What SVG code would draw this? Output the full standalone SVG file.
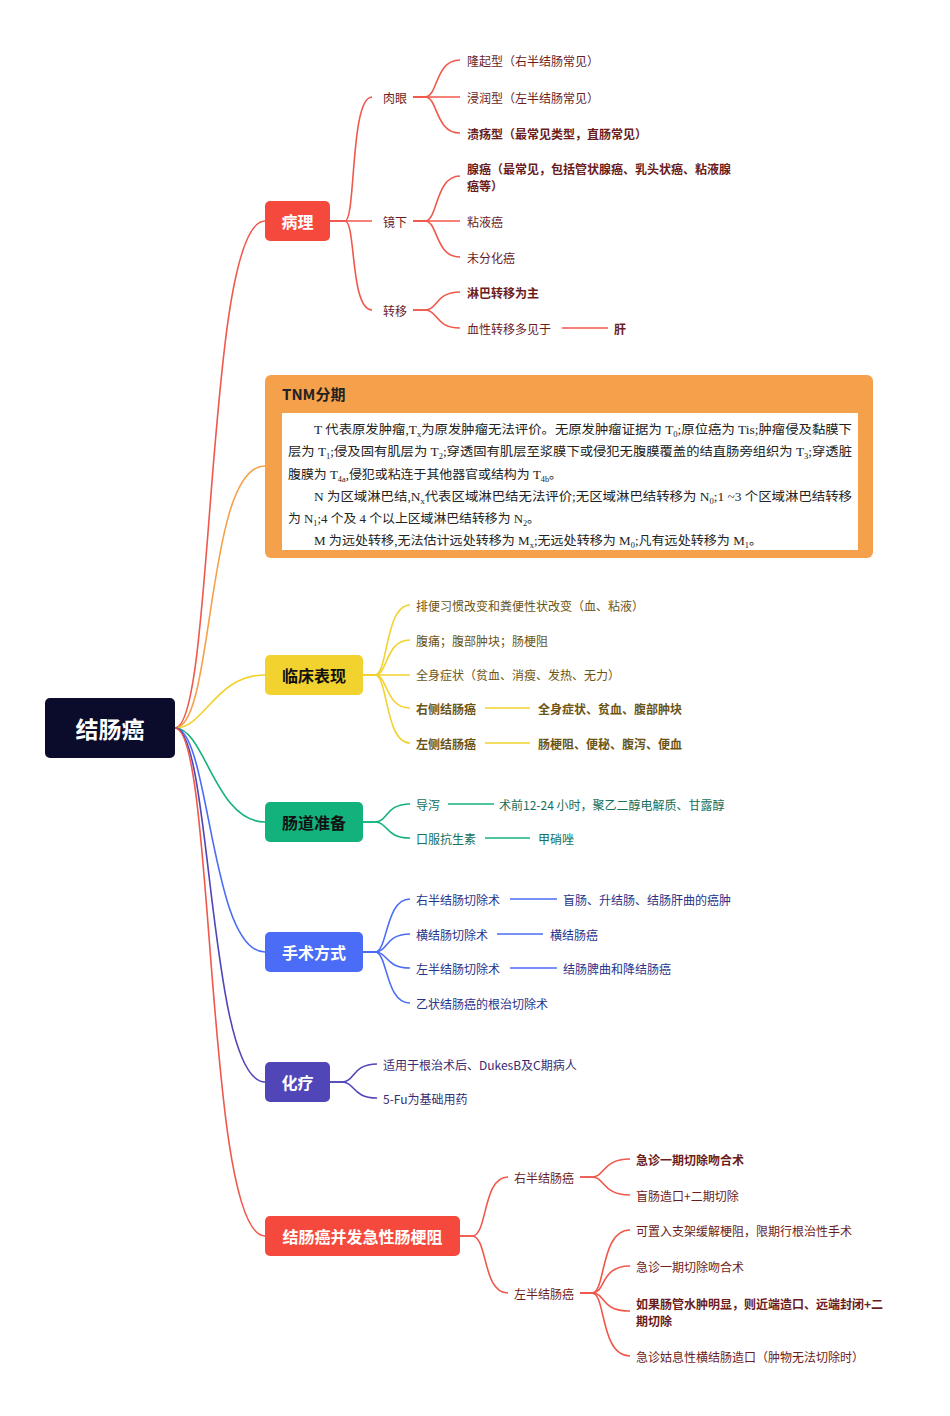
<svg xmlns="http://www.w3.org/2000/svg" width="950" height="1416" viewBox="0 0 950 1416">
<style>
text{font-family:"Noto Sans CJK SC","Noto Sans",sans-serif}
.n{font-size:16px;font-weight:bold;text-anchor:middle;dominant-baseline:central}
.t{font-size:12px;dominant-baseline:central}
.b{font-weight:bold}
.r{fill:#6b1c1c}.y{fill:#6b5516}.g{fill:#16705a}.bl{fill:#27338a}.p{fill:#352c75}
.tnm{font-family:"Liberation Serif","Noto Sans CJK SC",serif;font-size:12.5px;fill:#222}
.c{fill:none;stroke-width:1.6}
.cr{stroke:#f0584c}.co{stroke:#f5a04a}.cy{stroke:#f2d22e}.cg{stroke:#13b27c}.cb{stroke:#4a6cf7}.cp{stroke:#5046b8}
</style>
<rect width="950" height="1416" fill="#fff"/>
<g id="connectors">
<path class="c cr" d="M175,728 C215,728 205,221 265,221"/>
<path class="c co" d="M175,728 C215,728 205,466 265,466"/>
<path class="c cy" d="M175,728 C205,728 215,675 265,675"/>
<path class="c cg" d="M175,728 C205,728 215,822 265,822"/>
<path class="c cb" d="M175,728 C210,728 210,952 265,952"/>
<path class="c cp" d="M175,728 C212,728 208,1082 265,1082"/>
<path class="c cr" d="M175,728 C215,728 205,1236 265,1236"/>
<!-- 病理 -->
<path class="c cr" d="M330,221 L345,221 C356,221 350,97 372,97"/>
<path class="c cr" d="M330,221 L372,221"/>
<path class="c cr" d="M330,221 L345,221 C356,221 350,310 372,310"/>
<path class="c cr" d="M413,97 L425,97 C438,97 435,60 460,60"/>
<path class="c cr" d="M413,97 L460,97"/>
<path class="c cr" d="M413,97 L425,97 C438,97 435,133 460,133"/>
<path class="c cr" d="M413,221 L425,221 C438,221 435,176 460,176"/>
<path class="c cr" d="M413,221 L460,221"/>
<path class="c cr" d="M413,221 L425,221 C438,221 435,257 460,257"/>
<path class="c cr" d="M413,310 L425,310 C438,310 435,292 460,292"/>
<path class="c cr" d="M413,310 L425,310 C438,310 435,328 460,328"/>
<path class="c cr" d="M562,328 L608,328"/>
<!-- 临床 -->
<path class="c cy" d="M363,675 L375,675 C388,675 385,605 410,605"/>
<path class="c cy" d="M363,675 L375,675 C388,675 385,640 410,640"/>
<path class="c cy" d="M363,675 L410,675"/>
<path class="c cy" d="M363,675 L375,675 C388,675 385,708 410,708"/>
<path class="c cy" d="M363,675 L375,675 C388,675 385,743 410,743"/>
<path class="c cy" d="M485,708 L530,708"/>
<path class="c cy" d="M485,743 L530,743"/>
<!-- 肠道 -->
<path class="c cg" d="M363,822 L375,822 C388,822 385,804 410,804"/>
<path class="c cg" d="M363,822 L375,822 C388,822 385,838 410,838"/>
<path class="c cg" d="M448,804 L494,804"/>
<path class="c cg" d="M485,838 L530,838"/>
<!-- 手术 -->
<path class="c cb" d="M363,952 L375,952 C388,952 385,899 410,899"/>
<path class="c cb" d="M363,952 L375,952 C388,952 385,934 410,934"/>
<path class="c cb" d="M363,952 L375,952 C388,952 385,968 410,968"/>
<path class="c cb" d="M363,952 L375,952 C388,952 385,1003 410,1003"/>
<path class="c cb" d="M510,899 L557,899"/>
<path class="c cb" d="M497,934 L543,934"/>
<path class="c cb" d="M510,968 L557,968"/>
<!-- 化疗 -->
<path class="c cp" d="M330,1082 L342,1082 C355,1082 352,1064 377,1064"/>
<path class="c cp" d="M330,1082 L342,1082 C355,1082 352,1098 377,1098"/>
<!-- 梗阻 -->
<path class="c cr" d="M460,1236 L472,1236 C488,1236 482,1177 508,1177"/>
<path class="c cr" d="M460,1236 L472,1236 C488,1236 482,1293 508,1293"/>
<path class="c cr" d="M580,1177 L592,1177 C605,1177 602,1159 630,1159"/>
<path class="c cr" d="M580,1177 L592,1177 C605,1177 602,1195 630,1195"/>
<path class="c cr" d="M580,1293 L592,1293 C606,1293 600,1230 630,1230"/>
<path class="c cr" d="M580,1293 L592,1293 C606,1293 600,1266 630,1266"/>
<path class="c cr" d="M580,1293 L592,1293 C606,1293 600,1311 630,1311"/>
<path class="c cr" d="M580,1293 L592,1293 C606,1293 600,1356 630,1356"/>
</g>
<g id="root"><rect x="45" y="698" width="130" height="60" rx="5" fill="#0b0b2b"/><text class="n" x="110" y="728" fill="#fff" style="font-size:23px">结肠癌</text></g>
<g id="bingli"><rect x="265" y="201" width="65" height="40" rx="5" fill="#f5493d"/><text class="n" x="297.5" y="221" fill="#fff">病理</text>
<text class="t r" x="383" y="97">肉眼</text><text class="t r" x="383" y="221">镜下</text><text class="t r" x="383" y="310">转移</text>
<text class="t r" x="467" y="60">隆起型（右半结肠常见）</text>
<text class="t r" x="467" y="97">浸润型（左半结肠常见）</text>
<text class="t r b" x="467" y="133">溃疡型（最常见类型，直肠常见）</text>
<text class="t r b" x="467" y="168">腺癌（最常见，包括管状腺癌、乳头状癌、粘液腺</text>
<text class="t r b" x="467" y="185">癌等）</text>
<text class="t r" x="467" y="221">粘液癌</text>
<text class="t r" x="467" y="257">未分化癌</text>
<text class="t r b" x="467" y="292">淋巴转移为主</text>
<text class="t r" x="467" y="328">血性转移多见于</text>
<text class="t r b" x="614" y="328">肝</text></g>
<g id="tnm"><rect x="265" y="375" width="608" height="183" rx="6" fill="#f5a04a"/>
<text x="282" y="400" style="font-size:15px;font-weight:bold" fill="#222">TNM分期</text>
<rect x="282" y="413" width="576" height="137" fill="#fff"/>
<text class="tnm" x="314" y="434" textLength="538" lengthAdjust="spacingAndGlyphs">T 代表原发肿瘤,T<tspan font-size="8" dy="3">x</tspan><tspan dy="-3">为原发肿瘤无法评价。无原发肿瘤证据为 T</tspan><tspan font-size="8" dy="3">0</tspan><tspan dy="-3">;原位癌为 Tis;肿瘤侵及黏膜下</tspan></text>
<text class="tnm" x="288" y="456" textLength="564" lengthAdjust="spacingAndGlyphs">层为 T<tspan font-size="8" dy="3">1</tspan><tspan dy="-3">;侵及固有肌层为 T</tspan><tspan font-size="8" dy="3">2</tspan><tspan dy="-3">;穿透固有肌层至浆膜下或侵犯无腹膜覆盖的结直肠旁组织为 T</tspan><tspan font-size="8" dy="3">3</tspan><tspan dy="-3">;穿透脏</tspan></text>
<text class="tnm" x="288" y="479" textLength="274" lengthAdjust="spacingAndGlyphs">腹膜为 T<tspan font-size="8" dy="3">4a</tspan><tspan dy="-3">,侵犯或粘连于其他器官或结构为 T</tspan><tspan font-size="8" dy="3">4b</tspan><tspan dy="-3">。</tspan></text>
<text class="tnm" x="314" y="501" textLength="538" lengthAdjust="spacingAndGlyphs">N 为区域淋巴结,N<tspan font-size="8" dy="3">x</tspan><tspan dy="-3">代表区域淋巴结无法评价;无区域淋巴结转移为 N</tspan><tspan font-size="8" dy="3">0</tspan><tspan dy="-3">;1 ~3 个区域淋巴结转移</tspan></text>
<text class="tnm" x="288" y="523" textLength="252" lengthAdjust="spacingAndGlyphs">为 N<tspan font-size="8" dy="3">1</tspan><tspan dy="-3">;4 个及 4 个以上区域淋巴结转移为 N</tspan><tspan font-size="8" dy="3">2</tspan><tspan dy="-3">。</tspan></text>
<text class="tnm" x="314" y="545" textLength="448" lengthAdjust="spacingAndGlyphs">M 为远处转移,无法估计远处转移为 M<tspan font-size="8" dy="3">x</tspan><tspan dy="-3">;无远处转移为 M</tspan><tspan font-size="8" dy="3">0</tspan><tspan dy="-3">;凡有远处转移为 M</tspan><tspan font-size="8" dy="3">1</tspan><tspan dy="-3">。</tspan></text>
</g>
<g id="linchuang"><rect x="265" y="655" width="98" height="40" rx="5" fill="#f2d22e"/><text class="n" x="314" y="675" fill="#111">临床表现</text>
<text class="t y" x="416" y="605">排便习惯改变和粪便性状改变（血、粘液）</text>
<text class="t y" x="416" y="640">腹痛；腹部肿块；肠梗阻</text>
<text class="t y" x="416" y="674">全身症状（贫血、消瘦、发热、无力）</text>
<text class="t y b" x="416" y="708">右侧结肠癌</text><text class="t y b" x="538" y="708">全身症状、贫血、腹部肿块</text>
<text class="t y b" x="416" y="743">左侧结肠癌</text><text class="t y b" x="538" y="743">肠梗阻、便秘、腹泻、便血</text></g>
<g id="changdao"><rect x="265" y="802" width="98" height="40" rx="5" fill="#13b27c"/><text class="n" x="314" y="822" fill="#111">肠道准备</text>
<text class="t g" x="416" y="804">导泻</text><text class="t g" x="499" y="804">术前12-24 小时，聚乙二醇电解质、甘露醇</text>
<text class="t g" x="416" y="838">口服抗生素</text><text class="t g" x="538" y="838">甲硝唑</text></g>
<g id="shoushu"><rect x="265" y="932" width="98" height="40" rx="5" fill="#4a6cf7"/><text class="n" x="314" y="952" fill="#fff">手术方式</text>
<text class="t bl" x="416" y="899">右半结肠切除术</text><text class="t bl" x="563" y="899">盲肠、升结肠、结肠肝曲的癌肿</text>
<text class="t bl" x="416" y="934">横结肠切除术</text><text class="t bl" x="550" y="934">横结肠癌</text>
<text class="t bl" x="416" y="968">左半结肠切除术</text><text class="t bl" x="563" y="968">结肠脾曲和降结肠癌</text>
<text class="t bl" x="416" y="1003">乙状结肠癌的根治切除术</text></g>
<g id="hualiao"><rect x="265" y="1062" width="65" height="40" rx="5" fill="#5046b8"/><text class="n" x="297.5" y="1082" fill="#fff">化疗</text>
<text class="t p" x="383" y="1064">适用于根治术后、DukesB及C期病人</text>
<text class="t p" x="383" y="1098">5-Fu为基础用药</text></g>
<g id="gengzu"><rect x="265" y="1216" width="195" height="40" rx="5" fill="#f5493d"/><text class="n" x="362.5" y="1236" fill="#fff">结肠癌并发急性肠梗阻</text>
<text class="t r" x="514" y="1177">右半结肠癌</text><text class="t r" x="514" y="1293">左半结肠癌</text>
<text class="t r b" x="636" y="1159">急诊一期切除吻合术</text>
<text class="t r" x="636" y="1195">盲肠造口+二期切除</text>
<text class="t r" x="636" y="1230">可置入支架缓解梗阻，限期行根治性手术</text>
<text class="t r" x="636" y="1266">急诊一期切除吻合术</text>
<text class="t r b" x="636" y="1303">如果肠管水肿明显，则近端造口、远端封闭+二</text>
<text class="t r b" x="636" y="1320">期切除</text>
<text class="t r" x="636" y="1356">急诊姑息性横结肠造口（肿物无法切除时）</text></g>
</svg>
